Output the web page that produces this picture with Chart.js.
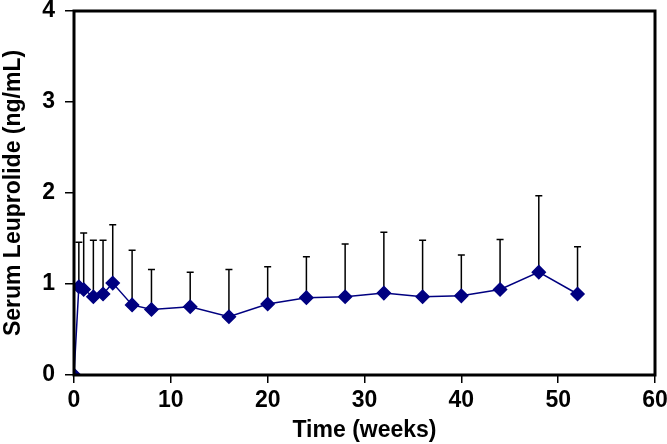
<!DOCTYPE html>
<html>
<head>
<meta charset="utf-8">
<script src="https://cdn.jsdelivr.net/npm/chart.js@4"></script>
<style>
  html, body { margin: 0; padding: 0; background: #fff; }
  #wrap { width: 667px; height: 444px; }
</style>
</head>
<body>
<div id="wrap"><canvas id="c" width="667" height="444"></canvas></div>
<script>
const weeks = [0, 0.5, 1, 2, 3, 4, 6, 8, 12, 16, 20, 24, 28, 32, 36, 40, 44, 48, 52];
const leuprolide = [0, 0.97, 0.94, 0.86, 0.89, 1.01, 0.77, 0.72, 0.75, 0.64, 0.78, 0.85, 0.86, 0.90, 0.86, 0.87, 0.94, 1.13, 0.89];
const upperErr = [null, 1.46, 1.56, 1.48, 1.48, 1.65, 1.37, 1.16, 1.13, 1.16, 1.19, 1.30, 1.44, 1.57, 1.48, 1.32, 1.49, 1.97, 1.41];
const xTicks = [0, 10, 20, 30, 40, 50, 60];
const yTicks = [0, 1, 2, 3, 4];

const navy = '#000080';
const font = 'Liberation Sans, Arial, sans-serif';

// error bars (upper only) drawn under the markers
const errorBars = {
  id: 'errorBars',
  beforeDatasetsDraw(chart) {
    const ctx = chart.ctx, xs = chart.scales.x, ys = chart.scales.y;
    ctx.save();
    ctx.strokeStyle = '#000';
    ctx.lineWidth = 1.5;
    weeks.forEach((w, i) => {
      if (upperErr[i] == null) return;
      const px = xs.getPixelForValue(w);
      const py0 = ys.getPixelForValue(leuprolide[i]);
      const py1 = ys.getPixelForValue(upperErr[i]);
      ctx.beginPath();
      ctx.moveTo(px, py0);
      ctx.lineTo(px, py1);
      ctx.moveTo(px - 3.5, py1);
      ctx.lineTo(px + 3.5, py1);
      ctx.stroke();
    });
    ctx.restore();
  }
};

const frame = {
  id: 'frame',
  afterDraw(chart) {
    const a = chart.chartArea, ctx = chart.ctx;
    ctx.save();
    ctx.strokeStyle = '#000';
    ctx.lineWidth = 3;
    ctx.strokeRect(a.left, a.top, a.right - a.left, a.bottom - a.top);
    ctx.restore();
  }
};

new Chart(document.getElementById('c'), {
  type: 'line',
  data: {
    datasets: [{
      data: weeks.map((w, i) => ({x: w, y: leuprolide[i]})),
      borderColor: navy,
      backgroundColor: navy,
      borderWidth: 1.5,
      pointStyle: 'rectRot',
      pointRadius: 6.5,
      pointBackgroundColor: navy,
      pointBorderColor: navy,
      tension: 0
    }]
  },
  options: {
    responsive: false,
    animation: false,
    layout: { padding: { top: 11, right: 12, left: 0, bottom: 0 } },
    plugins: { legend: { display: false }, tooltip: { enabled: false } },
    scales: {
      x: {
        type: 'linear',
        min: 0, max: 60,
        afterBuildTicks(s) { s.ticks = xTicks.map(v => ({value: v})); },
        afterFit(s) { s.height = 69; s.paddingLeft = 0; s.paddingRight = 0; },
        grid: { drawOnChartArea: false, drawTicks: true, tickLength: 8, color: '#000', lineWidth: 1.5 },
        border: { display: false },
        ticks: { color: '#000', font: { family: font, size: 23, weight: 'bold' }, padding: 4, maxRotation: 0 },
        title: { display: true, text: 'Time (weeks)', color: '#000', font: { family: font, size: 23, weight: 'bold' }, padding: { top: 0, bottom: 0 } }
      },
      y: {
        min: 0, max: 4,
        afterBuildTicks(s) { s.ticks = yTicks.map(v => ({value: v})); },
        afterFit(s) { s.width = 74; s.paddingTop = 0; s.paddingBottom = 0; },
        grid: { drawOnChartArea: false, drawTicks: true, tickLength: 9, color: '#000', lineWidth: 1.5 },
        border: { display: false },
        ticks: { color: '#000', font: { family: font, size: 23, weight: 'bold' }, padding: 10 },
        title: { display: true, text: 'Serum Leuprolide (ng/mL)', color: '#000', font: { family: font, size: 23, weight: 'bold' }, padding: { top: 0, bottom: 4 } }
      }
    }
  },
  plugins: [errorBars, frame]
});
</script>
</body>
</html>
